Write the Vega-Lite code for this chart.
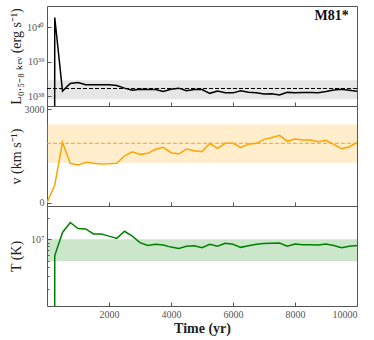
{
  "$schema": "https://vega.github.io/schema/vega-lite/v6.json",
  "padding": {"left": 8, "top": 5, "right": 19, "bottom": 0},
  "spacing": 0,
  "bounds": "flush",
  "config": {
    "view": {"stroke": "#555", "strokeWidth": 1},
    "axis": {
      "domain": false, "grid": false,
      "labelFont": "Liberation Serif", "labelFontSize": 10, "labelColor": "#555",
      "tickColor": "#555", "tickSize": -4, "labelPadding": 7,
      "titleFont": "Liberation Serif", "titleFontSize": 14, "titleColor": "#222", "titleFontWeight": "normal"
    },
    "axisY": {"minExtent": 22, "maxExtent": 22, "titlePadding": 2}
  },
  "datasets": {
    "series": [
      {"t": 0, "L": 1e-250, "v": 0, "T": 1e-250},
      {"t": 250, "L": 1.95e40, "v": 570, "T": 5.9e6},
      {"t": 500, "L": 1.39e38, "v": 1940, "T": 1.25e7},
      {"t": 750, "L": 2.34e38, "v": 1266, "T": 1.73e7},
      {"t": 1000, "L": 2.48e38, "v": 1212, "T": 1.42e7},
      {"t": 1250, "L": 2.14e38, "v": 1300, "T": 1.40e7},
      {"t": 1500, "L": 2.12e38, "v": 1270, "T": 1.19e7},
      {"t": 1750, "L": 2.12e38, "v": 1244, "T": 1.19e7},
      {"t": 2000, "L": 2.12e38, "v": 1250, "T": 1.11e7},
      {"t": 2250, "L": 2.03e38, "v": 1266, "T": 1.03e7},
      {"t": 2500, "L": 1.70e38, "v": 1500, "T": 1.30e7},
      {"t": 2750, "L": 1.48e38, "v": 1640, "T": 1.11e7},
      {"t": 3000, "L": 1.58e38, "v": 1555, "T": 8.97e6},
      {"t": 3250, "L": 1.55e38, "v": 1588, "T": 8.2e6},
      {"t": 3500, "L": 1.55e38, "v": 1717, "T": 8.5e6},
      {"t": 3750, "L": 1.36e38, "v": 1781, "T": 8.3e6},
      {"t": 4000, "L": 1.58e38, "v": 1608, "T": 7.76e6},
      {"t": 4250, "L": 1.70e38, "v": 1566, "T": 7.4e6},
      {"t": 4500, "L": 1.42e38, "v": 1727, "T": 8.0e6},
      {"t": 4750, "L": 1.55e38, "v": 1672, "T": 8.1e6},
      {"t": 5000, "L": 1.55e38, "v": 1640, "T": 7.6e6},
      {"t": 5250, "L": 1.20e38, "v": 1910, "T": 8.5e6},
      {"t": 5500, "L": 1.41e38, "v": 1749, "T": 8.0e6},
      {"t": 5750, "L": 1.24e38, "v": 1910, "T": 8.8e6},
      {"t": 6000, "L": 1.24e38, "v": 1910, "T": 8.5e6},
      {"t": 6250, "L": 1.42e38, "v": 1781, "T": 7.7e6},
      {"t": 6500, "L": 1.30e38, "v": 1877, "T": 8.1e6},
      {"t": 6750, "L": 1.24e38, "v": 1910, "T": 8.5e6},
      {"t": 7000, "L": 1.14e38, "v": 2038, "T": 8.7e6},
      {"t": 7250, "L": 1.17e38, "v": 2100, "T": 8.8e6},
      {"t": 7500, "L": 1.07e38, "v": 2167, "T": 8.85e6},
      {"t": 7750, "L": 1.28e38, "v": 1974, "T": 8.0e6},
      {"t": 8000, "L": 1.24e38, "v": 2048, "T": 8.6e6},
      {"t": 8250, "L": 1.26e38, "v": 2016, "T": 8.4e6},
      {"t": 8500, "L": 1.26e38, "v": 2016, "T": 8.35e6},
      {"t": 8750, "L": 1.24e38, "v": 1961, "T": 8.3e6},
      {"t": 9000, "L": 1.35e38, "v": 2006, "T": 8.6e6},
      {"t": 9250, "L": 1.49e38, "v": 1878, "T": 8.2e6},
      {"t": 9500, "L": 1.58e38, "v": 1736, "T": 7.6e6},
      {"t": 9750, "L": 1.48e38, "v": 1800, "T": 8.0e6},
      {"t": 10000, "L": 1.39e38, "v": 1930, "T": 8.2e6}
    ]
  },
  "vconcat": [
    {
      "width": 310, "height": 100,
      "layer": [
        {
          "data": {"values": [{"lo": 8.1e37, "hi": 2.9e38}]},
          "mark": {"type": "rect", "color": "#808080", "opacity": 0.2},
          "encoding": {
            "x": {"datum": 0, "type": "quantitative", "scale": {"domain": [0, 10000], "nice": false, "zero": false},
                  "axis": {"values": [2000, 4000, 6000, 8000, 10000], "labels": false, "title": null, "minExtent": 0, "maxExtent": 0, "labelPadding": 0}},
            "x2": {"datum": 10000},
            "y": {"field": "lo", "type": "quantitative", "scale": {"type": "log", "domain": [5.13e37, 4.22e40], "nice": false},
                  "axis": {"values": [1e38, 1e39, 1e40], "labelExpr": "datum.value > 5e39 ? '10⁴⁰' : datum.value > 5e38 ? '10³⁹' : '10³⁸'",
                           "title": "L₀.₅₋₈ ₖₑᵥ (erg s⁻¹)"}},
            "y2": {"field": "hi"}
          }
        },
        {
          "data": {"values": [{"mid": 1.66e38}]},
          "mark": {"type": "rule", "color": "black", "strokeWidth": 1, "strokeDash": [4, 2]},
          "encoding": {"y": {"field": "mid", "type": "quantitative", "scale": {"type": "log", "domain": [5.13e37, 4.22e40], "nice": false}}}
        },
        {
          "data": {"name": "series"},
          "mark": {"type": "line", "color": "black", "strokeWidth": 1.5, "clip": true},
          "encoding": {
            "x": {"field": "t", "type": "quantitative", "scale": {"domain": [0, 10000], "nice": false, "zero": false}},
            "y": {"field": "L", "type": "quantitative", "scale": {"type": "log", "domain": [5.13e37, 4.22e40], "nice": false}}
          }
        },
        {
          "data": {"values": [{"x": 9730, "y": 2.2e40, "label": "M81*"}]},
          "mark": {"type": "text", "align": "right", "baseline": "middle", "font": "Liberation Serif", "fontSize": 14, "fontWeight": "bold", "color": "#111"},
          "encoding": {
            "x": {"field": "x", "type": "quantitative"},
            "y": {"field": "y", "type": "quantitative"},
            "text": {"field": "label"}
          }
        }
      ]
    },
    {
      "width": 310, "height": 100,
      "layer": [
        {
          "data": {"values": [{"lo": 1286, "hi": 2515}]},
          "mark": {"type": "rect", "color": "#ffa500", "opacity": 0.2},
          "encoding": {
            "x": {"datum": 0, "type": "quantitative", "scale": {"domain": [0, 10000], "nice": false, "zero": false},
                  "axis": {"values": [2000, 4000, 6000, 8000, 10000], "labels": false, "title": null, "minExtent": 0, "maxExtent": 0, "labelPadding": 0}},
            "x2": {"datum": 10000},
            "y": {"field": "lo", "type": "quantitative", "scale": {"domain": [-105, 3110], "nice": false, "zero": false},
                  "axis": {"values": [0, 1000, 2000, 3000], "format": "d", "title": "v (km s⁻¹)"}},
            "y2": {"field": "hi"}
          }
        },
        {
          "data": {"values": [{"mid": 1910}]},
          "mark": {"type": "rule", "color": "#ffa500", "strokeWidth": 1, "strokeDash": [4, 2]},
          "encoding": {"y": {"field": "mid", "type": "quantitative", "scale": {"domain": [-105, 3110], "nice": false, "zero": false}}}
        },
        {
          "data": {"name": "series"},
          "mark": {"type": "line", "color": "#ffa500", "strokeWidth": 1.5, "clip": true},
          "encoding": {
            "x": {"field": "t", "type": "quantitative", "scale": {"domain": [0, 10000], "nice": false, "zero": false}},
            "y": {"field": "v", "type": "quantitative", "scale": {"domain": [-105, 3110], "nice": false, "zero": false}}
          }
        }
      ]
    },
    {
      "width": 310, "height": 100,
      "layer": [
        {
          "data": {"values": [{"lo": 4.9e6, "hi": 1e7}]},
          "mark": {"type": "rect", "color": "#008000", "opacity": 0.2},
          "encoding": {
            "x": {"datum": 0, "type": "quantitative", "scale": {"domain": [0, 10000], "nice": false, "zero": false},
                  "axis": {"values": [2000, 4000, 6000, 8000, 10000], "format": "d", "title": "Time (yr)", "titleFontWeight": "bold", "titlePadding": 2}},
            "x2": {"datum": 10000},
            "y": {"field": "lo", "type": "quantitative", "scale": {"type": "log", "domain": [1.14e6, 2.96e7], "nice": false},
                  "axis": {"values": [2e6, 3e6, 4e6, 5e6, 6e6, 7e6, 8e6, 9e6, 1e7, 2e7],
                           "labelExpr": "datum.value == 10000000 ? '10⁷' : ''",
                           "tickSize": {"condition": {"test": "datum.value == 10000000", "value": -4}, "value": -2},
                           "title": "T (K)"}},
            "y2": {"field": "hi"}
          }
        },
        {
          "data": {"name": "series"},
          "mark": {"type": "line", "color": "#008000", "strokeWidth": 1.5, "clip": true},
          "encoding": {
            "x": {"field": "t", "type": "quantitative", "scale": {"domain": [0, 10000], "nice": false, "zero": false}},
            "y": {"field": "T", "type": "quantitative", "scale": {"type": "log", "domain": [1.14e6, 2.96e7], "nice": false}}
          }
        }
      ]
    }
  ]
}
